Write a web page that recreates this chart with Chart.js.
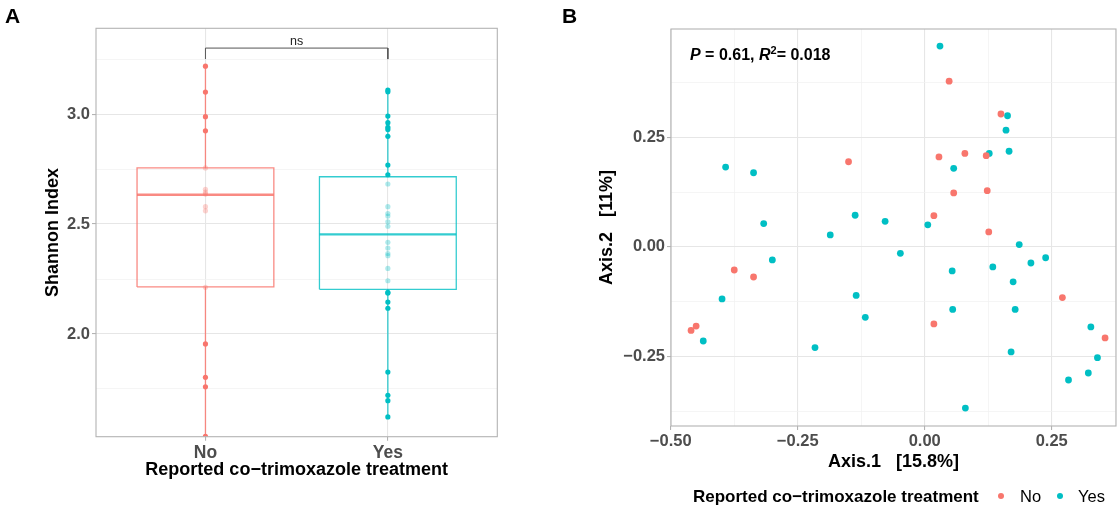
<!DOCTYPE html>
<html>
<head>
<meta charset="utf-8">
<script src="https://cdn.jsdelivr.net/npm/chart.js@4.4.1/dist/chart.umd.min.js"></script>
<style>
  body { margin: 0; background: #fff; font-family: "Liberation Sans", Arial, sans-serif; }
  #wrap { position: relative; width: 1120px; height: 510px; overflow: hidden; }
  .panel { position: absolute; top: 0; width: 560px; height: 510px; }
  .tag { position: absolute; top: 5px; font-weight: bold; font-size: 21px; line-height: 1; color: #000; }
  .note { position: absolute; left: 690px; top: 47px; font-weight: bold; font-size: 16px; line-height: 1; color: #000; white-space: pre; }
  .note sup { font-size: 11px; line-height: 0; vertical-align: 6px; }
  .leg { position: absolute; top: 488px; font-size: 16.5px; line-height: 1; color: #000; white-space: pre; }
  .dot { position: absolute; top: 492.6px; width: 6.8px; height: 6.8px; border-radius: 50%; }
</style>
</head>
<body>
<div id="wrap">
  <div class="panel" style="left:0"><canvas id="shannonChart" width="560" height="510"></canvas></div>
  <div class="panel" style="left:560px"><canvas id="pcoaChart" width="560" height="510"></canvas></div>
  <div class="tag" style="left:5px">A</div>
  <div class="tag" style="left:562px">B</div>
  <div class="note"><i>P</i> = 0.61, <i>R</i><sup>2</sup>= 0.018</div>
  <div class="leg" style="left:693px; font-weight:bold; font-size:17px; top:487.5px">Reported co−trimoxazole treatment</div>
  <div class="dot" style="left:997.6px; background:#F8766D"></div>
  <div class="leg" style="left:1020px">No</div>
  <div class="dot" style="left:1056.6px; background:#00BFC4"></div>
  <div class="leg" style="left:1078px">Yes</div>
</div>
<script>
// Panel A - Shannon index by reported co-trimoxazole treatment
const groups = ['No', 'Yes'];
const shannonNo = [3.218, 3.10, 2.988, 2.924, 2.755, 2.658, 2.645, 2.636, 2.579, 2.56,
    2.212, 1.955, 1.803, 1.76, 1.535];
const shannonYes = [3.109, 3.101, 2.991, 2.961, 2.94, 2.93, 2.899, 2.768, 2.724, 2.682,
    2.579, 2.548, 2.536, 2.51, 2.49, 2.417, 2.391, 2.366, 2.356, 2.298,
    2.242, 2.189, 2.186, 2.145, 2.117, 1.827, 1.721, 1.697, 1.623];
// box stats: [lower whisker, q1, median, q3, upper whisker]
const boxNo = [1.535, 2.214, 2.633, 2.755, 3.218];
const boxYes = [1.623, 2.203, 2.453, 2.715, 3.109];
const shannonTicks = [2.0, 2.5, 3.0];
const shannonMinor = [1.75, 2.25, 2.75, 3.25];
const bracketY = [3.25, 3.30];

// Panel B - PCoA ordination
const pcoaNoX = [0.048, -0.150, 0.028, 0.057, 0.018, -0.375, -0.337, 0.018, -0.460, -0.450,
    0.150, 0.079, 0.121, 0.123, 0.126, 0.271, 0.355];
const pcoaNoY = [0.378, 0.194, 0.205, 0.123, 0.071, -0.053, -0.069, -0.176, -0.191, -0.181,
    0.303, 0.213, 0.208, 0.128, 0.034, -0.116, -0.208];
const pcoaYesX = [0.030, -0.392, -0.337, 0.057, -0.317, -0.137, -0.078, 0.006, -0.186, -0.048,
    -0.300, 0.054, -0.399, -0.135, -0.117, 0.055, -0.436, -0.216, 0.163, 0.160,
    0.127, 0.166, 0.186, 0.134, 0.209, 0.238, 0.174, 0.178, 0.327, 0.170,
    0.340, 0.322, 0.283, 0.080];
const pcoaYesY = [0.458, 0.182, 0.169, 0.179, 0.053, 0.072, 0.058, 0.050, 0.027, -0.015,
    -0.030, -0.055, -0.119, -0.111, -0.161, -0.143, -0.215, -0.230, 0.299, 0.266,
    0.213, 0.218, 0.005, -0.046, -0.037, -0.025, -0.080, -0.143, -0.183, -0.240,
    -0.253, -0.288, -0.304, -0.368];
const axis1Ticks = [-0.5, -0.25, 0, 0.25];
const axis1Minor = [-0.375, -0.125, 0.125, 0.375];
const axis2Ticks = [-0.25, 0, 0.25];
const axis2Minor = [-0.375, -0.125, 0.125, 0.375];

const noColor = '#F8766D';
const yesColor = '#00BFC4';
const majorGrid = '#E6E6E6';
const minorGrid = '#F1F1F1';
const borderGrey = '#B3B3B3';
const tickText = '#4D4D4D';

Chart.defaults.font.family = '"Liberation Sans", Arial, sans-serif';
Chart.defaults.animation = false;

const minus = s => s.replace('-', '\u2212');

// grey frame round the panel, as in ggplot's theme_light
const framePlugin = {
    id: 'frame',
    afterDraw(chart) {
        const a = chart.chartArea, ctx = chart.ctx;
        ctx.save();
        ctx.strokeStyle = borderGrey;
        ctx.lineWidth = 1.1;
        ctx.strokeRect(a.left, a.top, a.right - a.left, a.bottom - a.top);
        ctx.restore();
    }
};

function gridAxis(majors, minors, fmt, extra) {
    const all = majors.concat(minors).sort((a, b) => a - b);
    return Object.assign({
        type: 'linear',
        afterBuildTicks: s => { s.ticks = all.map(v => ({ value: v })); },
        ticks: {
            callback: v => majors.includes(v) ? fmt(v) : '',
            font: { size: 16.5, weight: 'bold' }, color: tickText,
            padding: 2, autoSkip: false, maxRotation: 0
        },
        grid: {
            color: c => majors.includes(c.tick.value) ? majorGrid : minorGrid,
            lineWidth: c => majors.includes(c.tick.value) ? 1.1 : 0.7,
            tickLength: 4,
            tickColor: c => majors.includes(c.tick.value) ? borderGrey : 'rgba(0,0,0,0)'
        },
        border: { display: false }
    }, extra);
}

function initShannonChart() {
    const boxHalf = 0.375;
    const sets = [];
    [[shannonNo, boxNo, noColor, 'rgba(248,118,109,0.32)', 'rgba(248,118,109,0.85)'],
     [shannonYes, boxYes, yesColor, 'rgba(0,191,196,0.32)', 'rgba(0,191,196,0.8)']].forEach((g, i) => {
        const pos = i + 1;
        const [vals, s, solid, faded, line] = g;
        sets.push({
            data: vals.map(v => ({ x: pos, y: v })),
            pointRadius: 2.6, pointBorderWidth: 0,
            pointBackgroundColor: vals.map(v => (v >= s[1] - 0.003 && v <= s[3] + 0.003) ? faded : solid),
            order: 2
        });
        const lineSet = (data, w) => ({
            data, showLine: true, borderColor: line, borderWidth: w,
            pointRadius: 0, tension: 0, fill: false, order: 1
        });
        sets.push(lineSet([
            { x: pos - boxHalf, y: s[1] }, { x: pos - boxHalf, y: s[3] },
            { x: pos + boxHalf, y: s[3] }, { x: pos + boxHalf, y: s[1] },
            { x: pos - boxHalf, y: s[1] }], 1.3));
        sets.push(lineSet([{ x: pos - boxHalf, y: s[2] }, { x: pos + boxHalf, y: s[2] }], 2.4));
        sets.push(lineSet([{ x: pos, y: s[3] }, { x: pos, y: s[4] }], 1.3));
        sets.push(lineSet([{ x: pos, y: s[1] }, { x: pos, y: s[0] }], 1.3));
    });
    // significance bracket
    sets.push({
        data: [{ x: 1, y: bracketY[0] }, { x: 1, y: bracketY[1] }, { x: 2, y: bracketY[1] }, { x: 2, y: bracketY[0] }],
        showLine: true, borderColor: '#555', borderWidth: 1, pointRadius: 0, tension: 0, order: 1
    });

    const nsPlugin = {
        id: 'ns',
        afterDatasetsDraw(chart) {
            const ctx = chart.ctx;
            ctx.save();
            ctx.font = '12.5px "Liberation Sans", Arial, sans-serif';
            ctx.fillStyle = '#222';
            ctx.textAlign = 'center';
            ctx.textBaseline = 'alphabetic';
            ctx.fillText('ns', chart.scales.x.getPixelForValue(1.5), chart.scales.y.getPixelForValue(bracketY[1]) - 3);
            ctx.restore();
        }
    };

    new Chart(document.getElementById('shannonChart'), {
        type: 'scatter',
        data: { datasets: sets },
        options: {
            responsive: false,
            events: [],
            layout: { padding: { left: 0, top: 28.3, right: 62.7, bottom: 0 } },
            plugins: { legend: { display: false }, tooltip: { enabled: false } },
            scales: {
                x: {
                    type: 'linear', min: 0.4, max: 2.6,
                    afterBuildTicks: s => { s.ticks = groups.map((g, i) => ({ value: i + 1 })); },
                    ticks: {
                        callback: v => groups[v - 1] || '',
                        font: { size: 17.5, weight: 'bold' }, color: tickText,
                        padding: 2, autoSkip: false, maxRotation: 0
                    },
                    grid: { color: majorGrid, lineWidth: 1.1, tickLength: 4, tickColor: borderGrey },
                    border: { display: false },
                    title: {
                        display: true, text: 'Reported co\u2212trimoxazole treatment',
                        font: { size: 18, weight: 'bold' }, color: '#000',
                        padding: { top: 0, bottom: 29 }
                    },
                    afterFit: s => { s.height = 73.3; }
                },
                y: gridAxis(shannonTicks, shannonMinor, v => v.toFixed(1), {
                    min: 1.533, max: 3.39,
                    title: {
                        display: true, text: 'Shannon Index',
                        font: { size: 18, weight: 'bold' }, color: '#000',
                        padding: { top: 42, bottom: 0 }
                    },
                    afterFit: s => { s.width = 96; }
                })
            }
        },
        plugins: [framePlugin, nsPlugin]
    });
}

function initPcoaChart() {
    const pts = (xs, ys) => xs.map((x, i) => ({ x, y: ys[i] }));
    new Chart(document.getElementById('pcoaChart'), {
        type: 'scatter',
        data: {
            datasets: [
                { label: 'No', data: pts(pcoaNoX, pcoaNoY), pointBackgroundColor: noColor, pointRadius: 3.4, pointBorderWidth: 0 },
                { label: 'Yes', data: pts(pcoaYesX, pcoaYesY), pointBackgroundColor: yesColor, pointRadius: 3.4, pointBorderWidth: 0 }
            ]
        },
        options: {
            responsive: false,
            events: [],
            layout: { padding: { left: 0, top: 29, right: 2.3, bottom: 0 } },
            plugins: { legend: { display: false }, tooltip: { enabled: false } },
            scales: {
                x: gridAxis(axis1Ticks, axis1Minor, v => minus(v.toFixed(2)), {
                    min: -0.4995, max: 0.3765,
                    title: {
                        display: true, text: 'Axis.1   [15.8%]',
                        font: { size: 18, weight: 'bold' }, color: '#000',
                        padding: { top: 0, bottom: 37 }
                    },
                    afterFit: s => { s.height = 84; }
                }),
                y: gridAxis(axis2Ticks, axis2Minor, v => minus(v.toFixed(2)), {
                    min: -0.409, max: 0.497,
                    title: {
                        display: true, text: 'Axis.2   [11%]',
                        font: { size: 18, weight: 'bold' }, color: '#000',
                        padding: { top: 36, bottom: 0 }
                    },
                    afterFit: s => { s.width = 111; }
                })
            }
        },
        plugins: [framePlugin]
    });
}

window.onload = () => {
    initShannonChart();
    initPcoaChart();
};
</script>
</body>
</html>
